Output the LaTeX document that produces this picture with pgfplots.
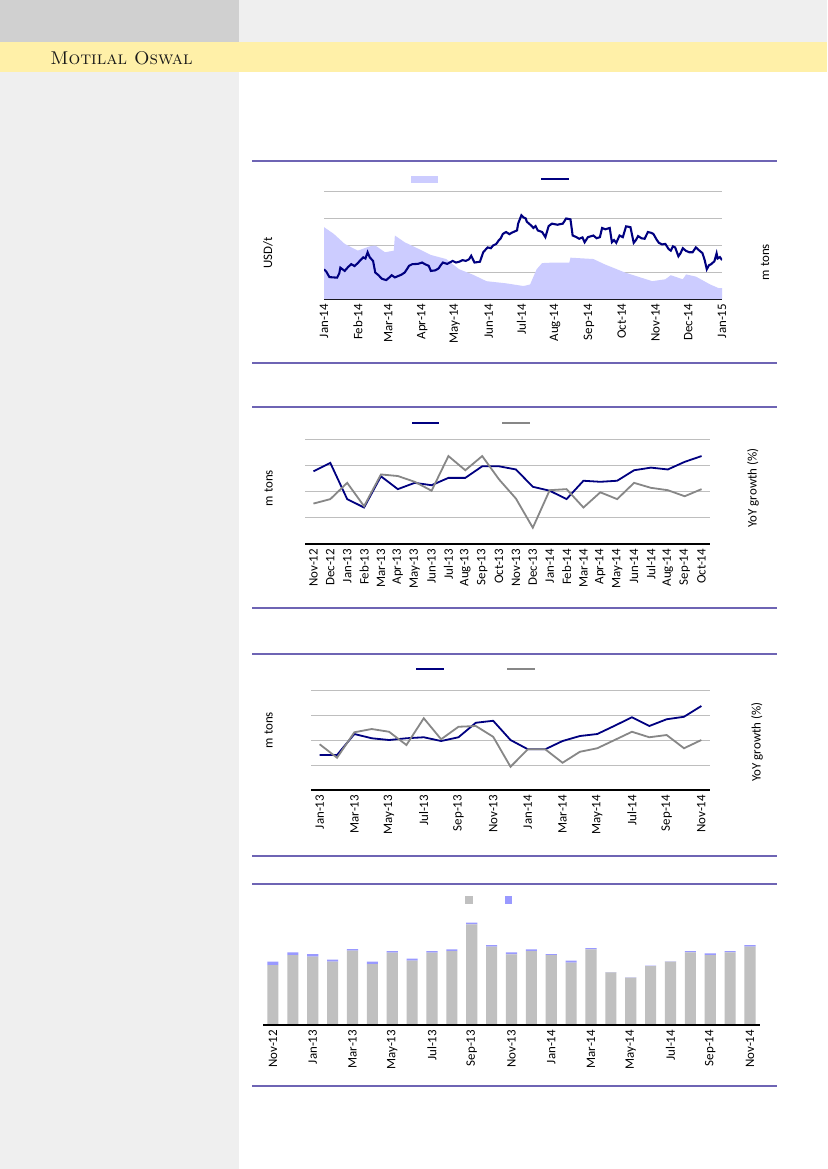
\documentclass[border=0pt]{standalone}
\usepackage{fontspec}
\usepackage{pgfplots}
\pgfplotsset{compat=1.18}
\newfontfamily\carlito{Carlito}
\definecolor{navy}{RGB}{0,0,128}
\definecolor{lgray}{RGB}{135,135,135}
\definecolor{lav}{RGB}{204,204,255}
\definecolor{sep}{RGB}{110,100,180}
\definecolor{grd}{RGB}{190,190,190}
\definecolor{barg}{RGB}{192,192,192}
\definecolor{barb}{RGB}{153,153,255}
\definecolor{band}{RGB}{255,240,168}
\definecolor{side}{RGB}{239,239,239}
\definecolor{corner}{RGB}{208,208,208}

\pgfplotsset{
  pagechart/.style={
    scale only axis, axis lines*=left,
    y axis line style={draw=none},
    x axis line style={black, line width=0.9pt},
    major tick length=0pt,
    ymin=0, ymax=4, ytick={1,2,3,4}, yticklabels={},
    ymajorgrids, grid style={grd, line width=0.6pt},
    xticklabel style={font=\carlito\fontsize{9.3}{10}\selectfont, rotate=90, anchor=east},
  },
}

\begin{document}
\begin{tikzpicture}[x=0.72pt, y=-0.72pt]
\path[use as bounding box] (0,0) rectangle (827,1169);
\fill[white] (0,0) rectangle (827,1169);
\fill[corner] (0,0) rectangle (239,42);
\fill[side] (239,0) rectangle (827,42);
\fill[band] (0,42) rectangle (827,72);
\fill[side] (0,72) rectangle (239,1169);
\node[anchor=base west, inner sep=0pt, text=black!90] at (50,64.5)
  {\fontsize{13.3}{14}\selectfont\textsc{Motilal Oswal}};

% separators
\foreach \yy in {161,363,407,608,654,856,884,1086}
  \draw[sep, line width=0.8pt] (252,\yy) -- (777,\yy);

% anchors for the axes
\coordinate (c1) at (324,299);
\coordinate (c2) at (305,544);
\coordinate (c3) at (311,790);
\coordinate (c4) at (263,1025);

% ---------- chart 1 ----------
\begin{axis}[pagechart, at={(c1)}, anchor=south west,
  width=286.6pt, height=77.8pt,
  xmin=0, xmax=365,
  xtick={0,31,59,90,120,151,181,212,243,273,304,334,365},
  xticklabels={Jan-14,Feb-14,Mar-14,Apr-14,May-14,Jun-14,Jul-14,Aug-14,Sep-14,Oct-14,Nov-14,Dec-14,Jan-15}]
\addplot[fill=lav, draw=none] coordinates {
(0,2.66)(9,2.41)(19,2.04)(31,1.79)(42,1.95)(47,1.98)(56,1.73)(64,1.79)(65,2.35)
(74,2.10)(87,1.85)(98,1.63)(112,1.48)(124,1.10)(136,0.91)(149,0.66)(167,0.58)
(183,0.48)(189,0.54)(195,1.10)(200,1.33)(211,1.35)(225,1.35)(226,1.53)(247,1.48)
(257,1.29)(276,0.98)(301,0.66)(313,0.73)(318,0.88)(329,0.73)(332,0.91)(341,0.83)
(354,0.54)(362,0.40)(365,0.40)} \closedcycle;
\addplot[navy, line width=1.5pt] coordinates {
(0,1.10)(2,1.02)(5,0.81)(12,0.79)(14,0.95)(15,1.16)(17,1.10)(19,1.04)(22,1.18)
(25,1.29)(28,1.22)(31,1.33)(33,1.42)(36,1.54)(38,1.50)(40,1.73)(42,1.54)(45,1.41)
(47,0.98)(50,0.88)(53,0.75)(57,0.70)(60,0.80)(62,0.88)(65,0.80)(68,0.85)(71,0.90)
(74,0.98)(76,1.10)(78,1.23)(81,1.29)(86,1.30)(90,1.35)(93,1.28)(96,1.23)(98,1.04)
(102,1.06)(105,1.13)(107,1.25)(109,1.35)(113,1.30)(118,1.41)(121,1.35)(124,1.38)
(127,1.44)(130,1.41)(133,1.47)(135,1.60)(138,1.35)(143,1.38)(146,1.73)(150,1.91)
(153,1.88)(155,1.98)(158,2.04)(160,2.16)(162,2.24)(164,2.41)(167,2.48)(170,2.40)
(172,2.45)(177,2.54)(178,2.79)(181,3.10)(183,3.02)(185,2.98)(186,2.86)(188,2.79)
(190,2.72)(192,2.63)(194,2.70)(196,2.54)(200,2.48)(203,2.29)(206,2.70)(209,2.79)
(214,2.75)(219,2.79)(222,2.98)(226,2.95)(228,2.35)(231,2.30)(234,2.23)(237,2.28)
(239,2.10)(242,2.29)(247,2.35)(250,2.25)(253,2.29)(255,2.63)(258,2.58)(262,2.63)
(264,2.10)(266,2.18)(268,2.08)(271,2.35)(274,2.29)(277,2.69)(281,2.66)(284,2.08)
(286,2.18)(288,2.33)(291,2.25)(294,2.23)(297,2.48)(300,2.45)(302,2.41)(305,2.20)
(307,2.08)(310,2.02)(313,2.04)(316,1.85)(318,1.79)(320,1.95)(322,1.91)(325,1.58)
(327,1.70)(329,1.88)(332,1.78)(335,1.73)(338,1.73)(341,1.91)(344,1.80)(347,1.70)
(349,1.45)(351,1.10)(353,1.25)(355,1.29)(358,1.40)(360,1.69)(361,1.50)(363,1.55)
(365,1.44)};
\end{axis}
\fill[lav] (410.6,176) rectangle (438.3,182.5);
\draw[navy, line width=1.5pt] (541,178.7) -- (568.5,178.7);
\node[rotate=90, font=\carlito\fontsize{9.3}{10}\selectfont] at (268,253) {USD/t};
\node[rotate=90, font=\carlito\fontsize{9.3}{10}\selectfont] at (765,262) {m tons};

% ---------- chart 2 ----------
\begin{axis}[pagechart, at={(c2)}, anchor=south west,
  width=291.6pt, height=75.6pt,
  xmin=-0.5, xmax=23.5, xtick={0,...,23},
  xticklabels={Nov-12,Dec-12,Jan-13,Feb-13,Mar-13,Apr-13,May-13,Jun-13,Jul-13,Aug-13,Sep-13,Oct-13,Nov-13,Dec-13,Jan-14,Feb-14,Mar-14,Apr-14,May-14,Jun-14,Jul-14,Aug-14,Sep-14,Oct-14}]
\addplot[navy, line width=1.3pt] coordinates {
(0,2.77)(1,3.09)(2,1.71)(3,1.39)(4,2.58)(5,2.09)(6,2.33)(7,2.24)(8,2.52)(9,2.52)
(10,2.96)(11,2.96)(12,2.84)(13,2.18)(14,2.03)(15,1.71)(16,2.41)(17,2.37)(18,2.41)
(19,2.81)(20,2.91)(21,2.84)(22,3.13)(23,3.35)};
\addplot[lgray, line width=1.3pt] coordinates {
(0,1.54)(1,1.71)(2,2.33)(3,1.44)(4,2.65)(5,2.59)(6,2.37)(7,2.03)(8,3.35)(9,2.81)
(10,3.35)(11,2.46)(12,1.73)(13,0.62)(14,2.05)(15,2.09)(16,1.39)(17,1.97)(18,1.71)
(19,2.33)(20,2.14)(21,2.05)(22,1.82)(23,2.09)};
\end{axis}
\draw[navy, line width=1.3pt] (412,423) -- (439,423);
\draw[lgray, line width=1.3pt] (502,423) -- (530,423);
\node[rotate=90, font=\carlito\fontsize{9.3}{10}\selectfont] at (268.6,488) {m tons};
\node[rotate=90, font=\carlito\fontsize{9.3}{10}\selectfont] at (753,488) {YoY growth (\%)};

% ---------- chart 3 ----------
\begin{axis}[pagechart, at={(c3)}, anchor=south west,
  width=287.3pt, height=72pt,
  xmin=-0.5, xmax=22.5, xtick={0,2,...,22},
  xticklabels={Jan-13,Mar-13,May-13,Jul-13,Sep-13,Nov-13,Jan-14,Mar-14,May-14,Jul-14,Sep-14,Nov-14}]
\addplot[navy, line width=1.3pt] coordinates {
(0,1.40)(1,1.40)(2,2.24)(3,2.07)(4,2.00)(5,2.07)(6,2.11)(7,1.96)(8,2.11)(9,2.69)
(10,2.77)(11,2.00)(12,1.63)(13,1.63)(14,1.96)(15,2.16)(16,2.24)(17,2.57)(18,2.91)
(19,2.56)(20,2.83)(21,2.93)(22,3.36)};
\addplot[lgray, line width=1.3pt] coordinates {
(0,1.83)(1,1.29)(2,2.31)(3,2.44)(4,2.33)(5,1.80)(6,2.87)(7,2.03)(8,2.53)(9,2.56)
(10,2.13)(11,0.93)(12,1.63)(13,1.63)(14,1.09)(15,1.53)(16,1.67)(17,2.00)(18,2.33)
(19,2.11)(20,2.20)(21,1.67)(22,2.00)};
\end{axis}
\draw[navy, line width=1.3pt] (416,669) -- (444,669);
\draw[lgray, line width=1.3pt] (507,669) -- (535,669);
\node[rotate=90, font=\carlito\fontsize{9.3}{10}\selectfont] at (268.6,730) {m tons};
\node[rotate=90, font=\carlito\fontsize{9.3}{10}\selectfont] at (757,742) {YoY growth (\%)};

% ---------- chart 4 ----------
\begin{axis}[scale only axis, at={(c4)}, anchor=south west,
  width=357.8pt, height=86.4pt,
  ybar stacked, bar width=8pt,
  xmin=-0.5, xmax=24.5, ymin=0, ymax=360,
  axis lines*=left, y axis line style={draw=none},
  x axis line style={black, line width=0.9pt},
  axis on top,
  major tick length=0pt, ytick=\empty,
  xtick={0,2,...,24},
  xticklabels={Nov-12,Jan-13,Mar-13,May-13,Jul-13,Sep-13,Nov-13,Jan-14,Mar-14,May-14,Jul-14,Sep-14,Nov-14},
  xticklabel style={font=\carlito\fontsize{9.3}{10}\selectfont, rotate=90, anchor=east}]
\addplot[fill=barg, draw=none] coordinates {
(0,180)(1,210)(2,205)(3,190)(4,223)(5,183)(6,217)(7,193)(8,217)(9,222)(10,302)
(11,235)(12,212)(13,222)(14,210)(15,187)(16,227)(17,158)(18,142)(19,177)(20,190)
(21,218)(22,210)(23,218)(24,235)};
\addplot[fill=barb, draw=none] coordinates {
(0,10)(1,8)(2,8)(3,6)(4,5)(5,7)(6,5)(7,6)(8,5)(9,5)(10,5)(11,5)(12,6)(13,5)
(14,3)(15,6)(16,4)(17,1)(18,1)(19,1)(20,1)(21,4)(22,5)(23,4)(24,5)};
\end{axis}
\fill[barg] (465,896) rectangle (473,903.5);
\fill[barb] (505,896) rectangle (512,903.5);
\end{tikzpicture}
\end{document}
